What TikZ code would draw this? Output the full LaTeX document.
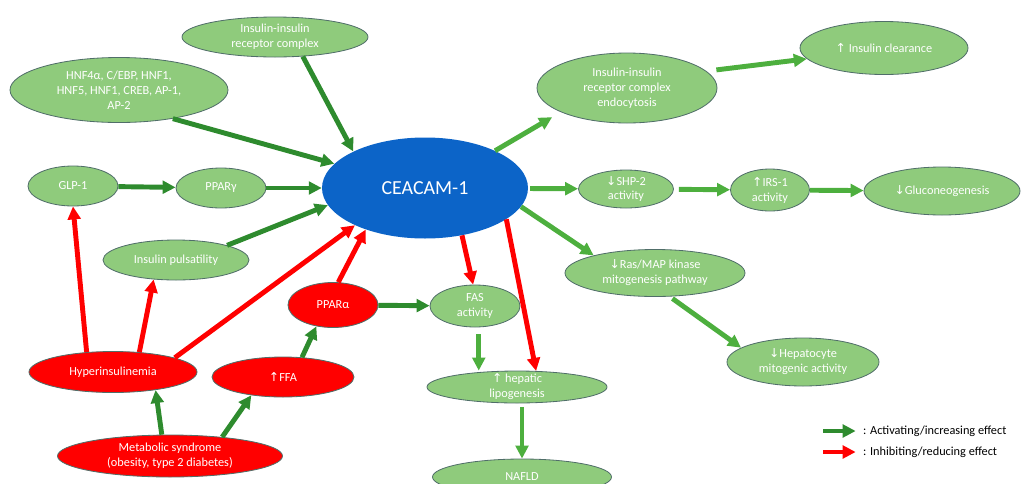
\documentclass[tikz,border=0pt]{standalone}
\usepackage{fontspec}
\setmainfont{Carlito}
\newfontfamily\arrowfont{DejaVu Sans}
\newcommand{\uparr}{{\arrowfont\char"2191}}
\newcommand{\dnarr}{{\arrowfont\char"2193}}
\usetikzlibrary{shapes.geometric,arrows.meta}
\definecolor{leaf}{RGB}{143,203,124}
\definecolor{edge}{RGB}{80,110,105}
\definecolor{dkgreen}{RGB}{46,139,46}
\definecolor{ltgreen}{RGB}{77,175,62}
\definecolor{ceablue}{RGB}{12,100,200}
\begin{document}
\begin{tikzpicture}[x = 0.3mm, y = -0.3mm, font = \fontsize{10.5}{12.8}\selectfont,
  gnode/.style = {ellipse, draw = edge, fill = leaf, text = white, align = center, line width = 0.7pt, inner xsep = -4mm, inner ysep = -3mm},
  rnode/.style = {gnode, fill = red},
  act/.style = {-{Triangle[length = 3.9mm, width = 3.8mm]}, line width = 4.2pt, draw = dkgreen},
  lact/.style = {act, draw = ltgreen},
  inh/.style = {act, draw = red}]
\useasboundingbox (0,0) rectangle (1021,483);
\node[ellipse, fill = ceablue, text = white, minimum width = 61.8mm, minimum height = 30.3mm, font = \fontsize{17}{20}\selectfont] (cea) at (425,188) {CEACAM-1};
\node[gnode, minimum width = 55.8mm, minimum height = 12mm] (iirc) at (275,37) {Insulin-insulin\\receptor complex};
\node[gnode, minimum width = 65.4mm, minimum height = 19.5mm] (hnf) at (119,90) {HNF4α, C/EBP, HNF1,\\HNF5, HNF1, CREB, AP-1,\\AP-2};
\node[gnode, minimum width = 27mm, minimum height = 12mm] (glp) at (73,186) {GLP-1};
\node[gnode, minimum width = 27mm, minimum height = 12mm] (ppg) at (221,188) {PPARγ};
\node[gnode, minimum width = 43.8mm, minimum height = 12mm] (ip) at (176,260) {Insulin pulsatility};
\node[rnode, minimum width = 50.4mm, minimum height = 12.3mm] (hyp) at (113,372) {Hyperinsulinemia};
\node[rnode, minimum width = 42.6mm, minimum height = 12mm] (ffa) at (283,377) {\uparr FFA};
\node[rnode, minimum width = 27mm, minimum height = 13.5mm] (ppa) at (333,305) {PPARα};
\node[rnode, minimum width = 67.5mm, minimum height = 12.6mm] (met) at (170,456) {Metabolic syndrome\\(obesity, type 2 diabetes)};
\node[gnode, minimum width = 27mm, minimum height = 12.6mm] (fas) at (475,306) {FAS\\activity};
\node[gnode, minimum width = 54mm, minimum height = 9.6mm] (hep) at (517,387) {\uparr{} hepatic\\lipogenesis};
\node[gnode, minimum width = 53.7mm, minimum height = 10.8mm] (nafld) at (522,477) {NAFLD};
\node[gnode, minimum width = 54mm, minimum height = 21mm] (endo) at (627,88) {Insulin-insulin\\receptor complex\\endocytosis};
\node[gnode, minimum width = 50.4mm, minimum height = 15.9mm] (clear) at (884,48) {\uparr{} Insulin clearance};
\node[gnode, minimum width = 28.5mm, minimum height = 11.4mm] (shp) at (626,189) {\dnarr SHP-2\\activity};
\node[gnode, minimum width = 23.7mm, minimum height = 12.6mm] (irs) at (770,190) {\uparr IRS-1\\activity};
\node[gnode, minimum width = 46.8mm, minimum height = 14.4mm] (glu) at (942,191) {\dnarr Gluconeogenesis};
\node[gnode, minimum width = 54mm, minimum height = 14.1mm] (ras) at (655,273) {\dnarr Ras/MAP kinase\\mitogenesis pathway};
\node[gnode, minimum width = 45.6mm, minimum height = 14.4mm] (hpc) at (803,362) {\dnarr Hepatocyte\\mitogenic activity};
\draw[act] (iirc.-35) -- (cea.153);
\draw[act] (hnf.-28) -- (cea.165);
\draw[act] (glp) -- (ppg);
\draw[act] (ppg) -- (cea);
\draw[act] (ip.16) -- (cea.190);
\draw[inh] (hyp.143) -- (glp.-90);
\draw[inh] (hyp.37) -- (ip.-139);
\draw[inh] (hyp.13) -- (cea.208);
\draw[inh] (ppa.77) -- (cea.215);
\draw[inh] (cea.-52) -- (fas.95);
\draw[inh] (cea.-21) -- (hep.40);
\draw[act] (ppa) -- (fas);
\draw[act] (ffa.46) -- (ppa.232);
\draw[act] (met.111) -- (hyp.-23);
\draw[act] (met.20) -- (ffa.210);
\draw[lact, shorten <= 2mm] (fas.-80) -- (fas.-80 |- hep.north);
\draw[lact, shorten <= 1mm] (nafld.north |- hep.south) -- (nafld.north);
\draw[lact, shorten >= 3mm] (cea.28) -- (endo.200);
\draw[lact, shorten <= 3mm] (endo.12) -- (clear.188);
\draw[lact, shorten <= 0.6mm] (cea) -- (shp);
\draw[lact, shorten <= 1.5mm] (shp) -- (irs);
\draw[lact] (irs) -- (glu);
\draw[lact] (cea.-11) -- (ras.164);
\draw[lact, shorten <= 1mm] (ras.-58) -- (hpc.167);
% legend
\node[anchor = west] (lgact) at (859,431) {: Activating/increasing effect};
\node[anchor = west] (lginh) at (859,452) {: Inhibiting/reducing effect};
\coordinate (lgacts) at (823,431);
\coordinate (lginhs) at (823,452);
\draw[act, shorten >= 1mm] (lgacts) -- (lgact.west);
\draw[inh, shorten >= 1mm] (lginhs) -- (lginh.west);
\end{tikzpicture}
\end{document}
